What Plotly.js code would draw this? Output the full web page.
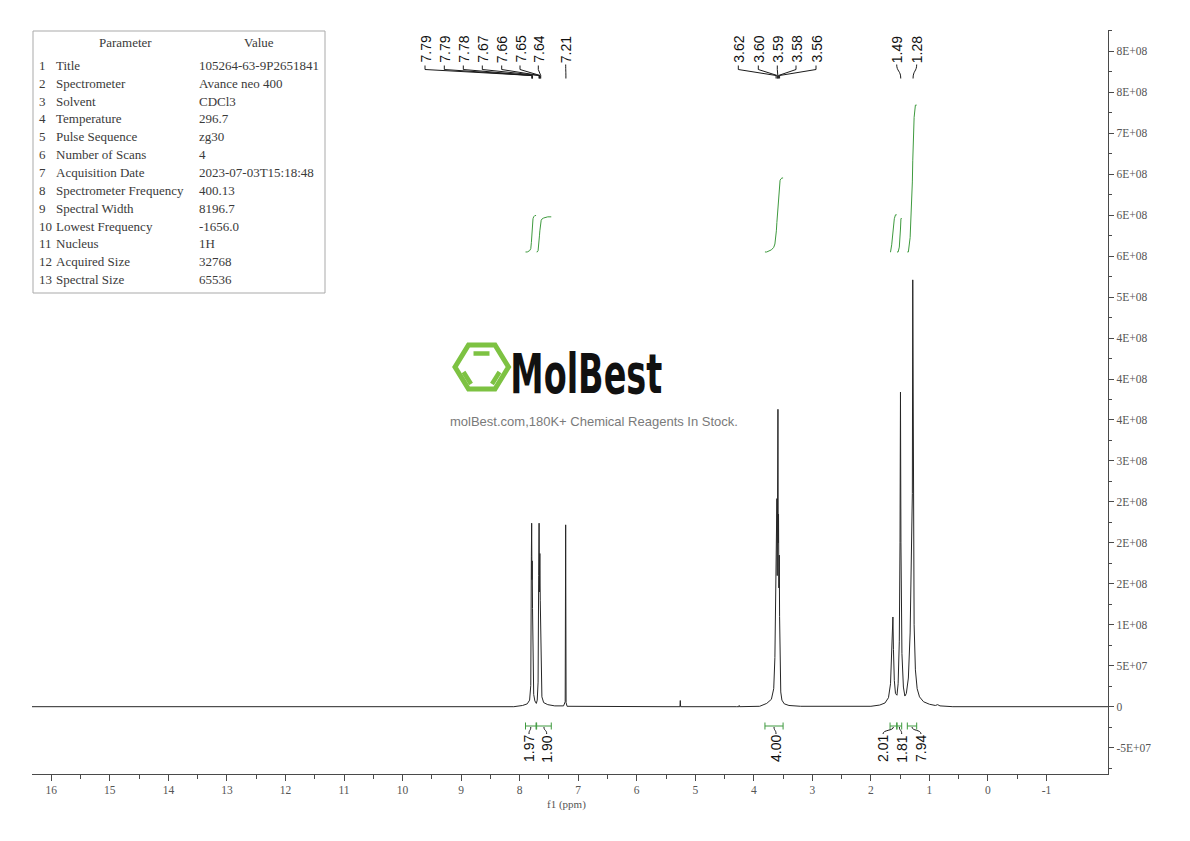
<!DOCTYPE html>
<html>
<head>
<meta charset="utf-8">
<script src="https://cdn.plot.ly/plotly-3.0.1.min.js"></script>
<style>
  html, body { margin: 0; padding: 0; background: #ffffff; }
  #chart { width: 1190px; height: 841px; }
</style>
</head>
<body>
<div id="chart"></div>
<script>
// 1H NMR spectrum, CDCl3, 400 MHz — spectrum trace vertices (ppm, intensity)
const shiftPpm = [
  16.33, 8.10, 7.95, 7.87, 7.83, 7.81, 7.800, 7.795, 7.790, 7.786, 7.780, 7.772, 7.76, 7.74,
  7.715, 7.70, 7.685, 7.675, 7.668, 7.662, 7.655, 7.648, 7.641, 7.632, 7.62, 7.59, 7.52, 7.40,
  7.25, 7.222, 7.214, 7.207, 7.19, 5.50, 5.262, 5.256, 5.250, 4.30, 4.255, 4.250, 4.245,
  3.90, 3.78, 3.70, 3.66, 3.64, 3.628, 3.622, 3.615, 3.606, 3.600, 3.594, 3.588, 3.583, 3.578,
  3.572, 3.565, 3.560, 3.552, 3.54, 3.52, 3.48, 3.40, 3.20, 2.00, 1.85, 1.76, 1.70, 1.665,
  1.645, 1.632, 1.624, 1.615, 1.60, 1.58, 1.555, 1.535, 1.515, 1.503, 1.495, 1.487, 1.47,
  1.445, 1.42, 1.395, 1.36, 1.33, 1.305, 1.292, 1.285, 1.278, 1.262, 1.24, 1.21, 1.17, 1.10,
  1.00, 0.90, 0.86, 0.82, 0.60, -2.05
];
const intensity = [
  0, 0, 1.5e6, 3.5e6, 8e6, 2.6e7, 1.83e8, 2.24e8, 1.55e8, 1.78e8, 1.2e8, 4.0e7, 1.5e7, 7e6,
  4e6, 8e6, 3.0e7, 1.6e8, 2.24e8, 1.4e8, 1.87e8, 1.3e8, 9e7, 3.0e7, 1.2e7, 5e6, 2.5e6, 1e6,
  1e6, 6e6, 2.22e8, 5e6, 5e5, 0, 0, 7.5e6, 0, 0, 0, 1.5e6, 0,
  5e5, 4e6, 9e6, 2.2e7, 6e7, 1.5e8, 1.25e8, 2.05e8, 2.54e8, 1.6e8, 2.2e8, 3.63e8, 2.0e8, 2.35e8,
  1.45e8, 1.85e8, 1.1e8, 4.5e7, 1.8e7, 8e6, 3.5e6, 1.5e6, 5e5, 5e5, 2e6, 4.5e6, 1.1e7, 2.8e7,
  6e7, 7.65e7, 1.095e8, 7e7, 3.2e7, 1.6e7, 1.4e7, 2.8e7, 8e7, 2.0e8, 3.84e8, 2.0e8, 6.5e7,
  2.4e7, 1.3e7, 1.6e7, 3.5e7, 9e7, 2.3e8, 2.6e8, 5.21e8, 2.6e8, 1.0e8, 4.5e7, 2.2e7, 1.2e7, 6e6,
  3e6, 1.5e6, 2.5e6, 1e6, 0, 0
];

// Peak picking
const peakPpm   = [7.79, 7.79, 7.78, 7.67, 7.66, 7.65, 7.64, 7.21, 3.62, 3.60, 3.59, 3.58, 3.56, 1.49, 1.28];
const peakGroup = [1, 1, 1, 1, 1, 1, 1, 2, 3, 3, 3, 3, 3, 4, 5];

// Integrals
const integralFrom  = [7.90, 7.71, 3.81, 1.673, 1.554, 1.378];
const integralTo    = [7.72, 7.46, 3.50, 1.559, 1.474, 1.218];
const integralValue = [1.97, 1.90, 4.00, 2.01, 1.81, 7.94];

// Axis ticks
const xTickVals = [16, 15, 14, 13, 12, 11, 10, 9, 8, 7, 6, 5, 4, 3, 2, 1, 0, -1];
const xTickText = ['16', '15', '14', '13', '12', '11', '10', '9', '8', '7', '6', '5', '4', '3', '2', '1', '0', '-1'];
const yTickVals = [-5e7, 0, 5e7, 1e8, 1.5e8, 2e8, 2.5e8, 3e8, 3.5e8, 4e8, 4.5e8, 5e8, 5.5e8, 6e8, 6.5e8, 7e8, 7.5e8, 8e8];
const yTickText = ['-5E+07', '0', '5E+07', '1E+08', '2E+08', '2E+08', '2E+08', '3E+08', '4E+08', '4E+08', '4E+08',
                   '5E+08', '6E+08', '6E+08', '6E+08', '7E+08', '8E+08', '8E+08'];

// Acquisition parameters
const paramNames = ['Title', 'Spectrometer', 'Solvent', 'Temperature', 'Pulse Sequence', 'Number of Scans',
  'Acquisition Date', 'Spectrometer Frequency', 'Spectral Width', 'Lowest Frequency', 'Nucleus',
  'Acquired Size', 'Spectral Size'];
const paramValues = ['105264-63-9P2651841', 'Avance neo 400', 'CDCl3', '296.7', 'zg30', '4',
  '2023-07-03T15:18:48', '400.13', '8196.7', '-1656.0', '1H', '32768', '65536'];

// ---------------- layout geometry ----------------
const W = 1190, H = 841;
const PL = 32, PR = 1108, PT = 30, PB = 774;
const X_RANGE = [16.33, -2.05];
const Y_RANGE = [-8.215e7, 8.26e8];
const INT_RANGE = [-28.22, 12.0];

const fx = px => (px - PL) / (PR - PL);
const fy = py => (PB - py) / (PB - PT);
const pxToPpm = px => X_RANGE[0] + (px - PL) / (PR - PL) * (X_RANGE[1] - X_RANGE[0]);

// label placement (pixels) for the crowded multiplet labels
const peakLabelPx = [425, 444.3, 463.3, 482.3, 501.7, 520, 538.3, 565.7, 738.3, 758.3, 777.3, 796, 816, 896.7, 916.7];
const integralLabelPx = [529, 546.7, 776, 883, 901.7, 921];

const INK = '#1a1a1a';
const GREEN = '#3e9a3e';
const AXIS = '#4a4a4a';
const SERIF = 'Liberation Serif, DejaVu Serif, serif';
const TICKFONT = { family: SERIF, size: 11.5, color: '#555' };
const LABELFONT = { family: 'Liberation Sans, Arial, sans-serif', size: 14, color: '#111' };

const traces = [];
traces.push({
  type: 'scatter', mode: 'lines', x: shiftPpm, y: intensity,
  line: { color: '#262626', width: 1 }, hoverinfo: 'skip', showlegend: false
});

// running integral over each region, scaled to the reported value
function integralCurve(i) {
  const a = integralFrom[i], b = integralTo[i];
  const xs = [a], ys = [0];
  let px = null, py = null, acc = 0;
  for (let k = 0; k < shiftPpm.length; k++) {
    const x = shiftPpm[k];
    if (x <= a && x >= b) {
      if (px !== null) acc += (intensity[k] + py) / 2 * (px - x);
      xs.push(x); ys.push(acc);
      px = x; py = intensity[k];
    }
  }
  xs.push(b); ys.push(acc);
  const s = integralValue[i] / acc;
  return { x: xs, y: ys.map(v => v * s) };
}
for (let i = 0; i < integralValue.length; i++) {
  const c = integralCurve(i);
  traces.push({
    type: 'scatter', mode: 'lines', x: c.x, y: c.y, yaxis: 'y2',
    line: { color: GREEN, width: 1 }, hoverinfo: 'skip', showlegend: false
  });
}

const shapes = [];
const annotations = [];
const P = (ppm, py) => `${ppm},${fy(py)}`;

// peak labels and their leader lines
const groupSize = {};
peakGroup.forEach(g => { groupSize[g] = (groupSize[g] || 0) + 1; });
for (let i = 0; i < peakPpm.length; i++) {
  const lp = pxToPpm(peakLabelPx[i]);
  const pk = peakPpm[i];
  let path;
  if (groupSize[peakGroup[i]] > 1) {
    path = `M ${P(lp, 65.5)} L ${P(lp, 69.5)} L ${P(pk, 75.5)} L ${P(pk, 78.5)}`;
  } else {
    path = `M ${P(lp, 64.5)} C ${P(lp, 71.5)} ${P(pk, 70.5)} ${P(pk, 78.5)}`;
  }
  shapes.push({ type: 'path', xref: 'x', yref: 'paper', path: path, line: { color: INK, width: 1 } });
  annotations.push({
    xref: 'paper', yref: 'paper', x: fx(peakLabelPx[i]), y: fy(49.5),
    text: peakPpm[i].toFixed(2), textangle: -90, showarrow: false,
    xanchor: 'center', yanchor: 'middle', font: LABELFONT
  });
}

// integral range brackets and values
for (let i = 0; i < integralValue.length; i++) {
  const a = integralFrom[i], b = integralTo[i];
  shapes.push({
    type: 'path', xref: 'x', yref: 'paper',
    path: `M ${P(a, 726)} L ${P(b, 726)} M ${P(a, 722.5)} L ${P(a, 729.5)} M ${P(b, 722.5)} L ${P(b, 729.5)}`,
    line: { color: GREEN, width: 1 }
  });
  const mid = (a + b) / 2;
  const lp = pxToPpm(integralLabelPx[i]);
  shapes.push({
    type: 'path', xref: 'x', yref: 'paper',
    path: `M ${P(mid, 727)} C ${P(mid, 731)} ${P(lp, 729.5)} ${P(lp, 734)}`,
    line: { color: INK, width: 1 }
  });
  annotations.push({
    xref: 'paper', yref: 'paper', x: fx(integralLabelPx[i]), y: fy(749),
    text: integralValue[i].toFixed(2), textangle: -90, showarrow: false,
    xanchor: 'center', yanchor: 'middle', font: LABELFONT
  });
}

// parameter table
shapes.push({
  type: 'rect', xref: 'paper', yref: 'paper',
  x0: fx(33), x1: fx(325), y0: fy(293), y1: fy(31),
  line: { color: '#a9a9a9', width: 1 }, fillcolor: 'rgba(0,0,0,0)'
});
const TABLEFONT = { family: SERIF, size: 13, color: '#3a3a3a' };
annotations.push({ xref: 'paper', yref: 'paper', x: fx(125), y: fy(43), text: 'Parameter', showarrow: false,
  xanchor: 'center', yanchor: 'middle', font: TABLEFONT });
annotations.push({ xref: 'paper', yref: 'paper', x: fx(259), y: fy(43), text: 'Value', showarrow: false,
  xanchor: 'center', yanchor: 'middle', font: TABLEFONT });
for (let i = 0; i < paramNames.length; i++) {
  const yy = fy(65.3 + i * 17.87);
  annotations.push({ xref: 'paper', yref: 'paper', x: fx(37), y: yy, text: String(i + 1), showarrow: false,
    xanchor: 'left', yanchor: 'middle', font: TABLEFONT });
  annotations.push({ xref: 'paper', yref: 'paper', x: fx(54), y: yy, text: paramNames[i], showarrow: false,
    xanchor: 'left', yanchor: 'middle', font: TABLEFONT });
  annotations.push({ xref: 'paper', yref: 'paper', x: fx(197), y: yy, text: paramValues[i], showarrow: false,
    xanchor: 'left', yanchor: 'middle', font: TABLEFONT });
}

// watermark: hexagon emblem, wordmark and tagline
const LOGO = '#7dc242';
const hex = [[455, 367], [468.5, 345], [495, 345], [508.5, 367], [495, 389], [468.5, 389]];
shapes.push({
  type: 'path', xref: 'paper', yref: 'paper',
  path: 'M ' + hex.map(p => `${fx(p[0])},${fy(p[1])}`).join(' L ') + ' Z',
  line: { color: LOGO, width: 5 }, fillcolor: 'rgba(0,0,0,0)'
});
[[[473.5, 353.5], [489.5, 353.5]], [[463.5, 372], [471, 384]], [[499.5, 372], [492, 384]]].forEach(s => {
  shapes.push({ type: 'line', xref: 'paper', yref: 'paper',
    x0: fx(s[0][0]), y0: fy(s[0][1]), x1: fx(s[1][0]), y1: fy(s[1][1]),
    line: { color: LOGO, width: 4.5 } });
});
annotations.push({ xref: 'paper', yref: 'paper', x: fx(586), y: fy(374), text: 'MolBest', showarrow: false,
  xanchor: 'center', yanchor: 'middle',
  font: { family: 'DejaVu Sans Condensed, DejaVu Sans, sans-serif', size: 55, color: '#111', weight: 'bold' } });
annotations.push({ xref: 'paper', yref: 'paper', x: fx(594), y: fy(421),
  text: 'molBest.com,180K+ Chemical Reagents In Stock.', showarrow: false,
  xanchor: 'center', yanchor: 'middle',
  font: { family: 'Liberation Sans, Arial, sans-serif', size: 13, color: '#7a7a7a' } });

// x axis title, tucked under the tick labels
annotations.push({ xref: 'paper', yref: 'paper', x: fx(566), y: fy(804.5), text: 'f1 (ppm)', showarrow: false,
  xanchor: 'center', yanchor: 'middle', font: { family: SERIF, size: 11, color: '#555' } });

const mids = v => v.slice(0, -1).map((t, i) => (t + v[i + 1]) / 2);
const yMinor = mids(yTickVals).concat([yTickVals[0] - 2.5e7, yTickVals[yTickVals.length - 1] + 2.5e7]);

const layout = {
  width: W, height: H, autosize: false,
  margin: { l: PL, r: W - PR, t: PT, b: H - PB, pad: 0 },
  paper_bgcolor: '#ffffff', plot_bgcolor: '#ffffff',
  showlegend: false,
  xaxis: {
    range: X_RANGE, showgrid: false, zeroline: false,
    showline: true, linecolor: AXIS, linewidth: 1,
    ticks: 'outside', ticklen: 6, tickcolor: AXIS, tickwidth: 1,
    tickmode: 'array', tickvals: xTickVals, ticktext: xTickText, tickfont: TICKFONT,
    ticklabelstandoff: -1,
    minor: { tickmode: 'array', tickvals: mids(xTickVals), ticks: 'outside', ticklen: 4, tickcolor: AXIS, tickwidth: 1 }
  },
  yaxis: {
    range: Y_RANGE, side: 'right', showgrid: false, zeroline: false,
    showline: true, linecolor: AXIS, linewidth: 1.2,
    ticks: 'outside', ticklen: 5, tickcolor: AXIS, tickwidth: 1,
    tickmode: 'array', tickvals: yTickVals, ticktext: yTickText,
    tickfont: { family: SERIF, size: 11.5, color: '#555' },
    minor: { tickmode: 'array', tickvals: yMinor, ticks: 'outside', ticklen: 3, tickcolor: AXIS, tickwidth: 1 }
  },
  yaxis2: { range: INT_RANGE, overlaying: 'y', visible: false, showgrid: false, zeroline: false },
  shapes: shapes,
  annotations: annotations
};

Plotly.newPlot('chart', traces, layout, { staticPlot: true, displayModeBar: false }).then(gd => {
  // condense the wordmark to its narrow block proportions
  gd.querySelectorAll('.annotation-text').forEach(t => {
    if (t.textContent === 'MolBest') {
      t.setAttribute('textLength', '152');
      t.setAttribute('lengthAdjust', 'spacingAndGlyphs');
    }
  });
});
</script>
</body>
</html>
